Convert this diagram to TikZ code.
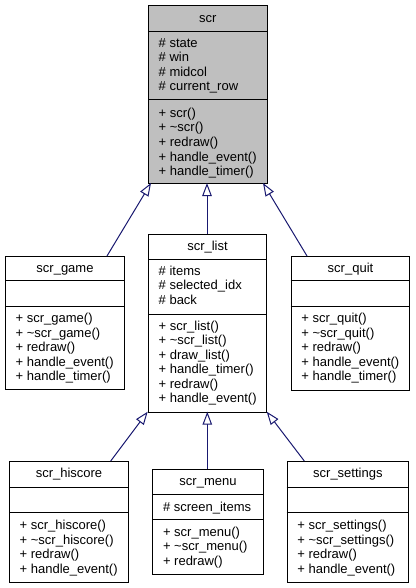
\documentclass[tikz,border=0pt]{standalone}
\usepackage{fontspec}
\setmainfont{Liberation Sans}
\usetikzlibrary{arrows.meta}
\definecolor{edgeblue}{HTML}{191970}
\definecolor{basegray}{HTML}{BFBFBF}

% one class member per line, 14.5pt apart, starting at baseline #3
\newcommand\memberlines[4]{%
  \foreach \t [count=\i] in {#4}
    \node[member] (#1-\i) at (#2, {#3+14.5*(\i-1)}) {\t};%
}

\begin{document}
\begin{tikzpicture}[x=1pt,y=-1pt,
  cls/.style={draw=black, line width=1pt, rectangle, inner sep=0pt,
              anchor=north west, fill=white},
  sep/.style={draw=black, line width=1pt},
  member/.style={anchor=base west, inner sep=0pt, font=\fontsize{13}{14.5}\selectfont},
  title/.style={anchor=base, inner sep=0pt, font=\fontsize{13}{14.5}\selectfont},
  inherit/.style={draw=edgeblue, line width=1pt,
                  -{Triangle[length=13pt,width=9.5pt,fill=white,line width=1pt]}},
]
\useasboundingbox (0,0) rectangle (415,588);

% ---- class boxes ----
\node[cls, fill=basegray, minimum width=118.5pt, minimum height=177.5pt] (scr) at (148,5.5) {};
\node[cls, minimum width=119pt,   minimum height=132.5pt] (game)     at (5,256) {};
\node[cls, minimum width=118pt,   minimum height=177.7pt] (list)     at (148,234) {};
\node[cls, minimum width=118.6pt, minimum height=133.5pt] (quit)     at (290.7,256) {};
\node[cls, minimum width=119pt,   minimum height=121.3pt] (hiscore)  at (9,461) {};
\node[cls, minimum width=110.4pt, minimum height=105.3pt] (menu)     at (152.3,469) {};
\node[cls, minimum width=121.3pt, minimum height=121.3pt] (settings) at (286.7,461) {};

% ---- compartment separators ----
\foreach \n/\a/\b in {scr/32/100, game/280.7/306.7, list/259/314, quit/280.7/306.7,
                      hiscore/487.3/512.3, menu/494/519.3, settings/487.3/512.3} {
  \draw[sep] (\n.west |- 0,\a) -- (\n.east |- 0,\a);
  \draw[sep] (\n.west |- 0,\b) -- (\n.east |- 0,\b);
}

% ---- class names ----
\node[title] (scr-t)      at (scr.north      |- 0,22.5)  {scr};
\node[title] (game-t)     at (game.north     |- 0,272.5) {scr\_game};
\node[title] (list-t)     at (list.north     |- 0,250.2) {scr\_list};
\node[title] (quit-t)     at (quit.north     |- 0,272.5) {scr\_quit};
\node[title] (hiscore-t)  at (hiscore.north  |- 0,477.5) {scr\_hiscore};
\node[title] (menu-t)     at (menu.north     |- 0,485.2) {scr\_menu};
\node[title] (settings-t) at (settings.north |- 0,477.5) {scr\_settings};

% ---- attributes ----
\memberlines{scr-a}{158.5}{47.5}{\# state, \# win, \# midcol, \# current\_row}
\memberlines{list-a}{158.5}{275.2}{\# items, \# selected\_idx, \# back}
\memberlines{menu-a}{162.8}{511.2}{\# screen\_items}

% ---- operations ----
\memberlines{scr-m}{158.5}{117.5}{+ scr(), + \textasciitilde scr(), + redraw(),
  + handle\_event(), + handle\_timer()}
\memberlines{game-m}{15.5}{322.5}{+ scr\_game(), + \textasciitilde scr\_game(), + redraw(),
  + handle\_event(), + handle\_timer()}
\memberlines{list-m}{158.5}{330.2}{+ scr\_list(), + \textasciitilde scr\_list(), + draw\_list(),
  + handle\_timer(), + redraw(), + handle\_event()}
\memberlines{quit-m}{301.2}{322.5}{+ scr\_quit(), + \textasciitilde scr\_quit(), + redraw(),
  + handle\_event(), + handle\_timer()}
\memberlines{hiscore-m}{19.5}{529.5}{+ scr\_hiscore(), + \textasciitilde scr\_hiscore(),
  + redraw(), + handle\_event()}
\memberlines{menu-m}{162.8}{536.2}{+ scr\_menu(), + \textasciitilde scr\_menu(), + redraw()}
\memberlines{settings-m}{297.2}{529.5}{+ scr\_settings(), + \textasciitilde scr\_settings(),
  + redraw(), + handle\_event()}

% ---- inheritance connectors ----
\coordinate (game-up)     at (107,256);   \coordinate (scr-in1)  at (151,183);
\coordinate (list-up)     at (207,234);   \coordinate (scr-in2)  at (207,183);
\coordinate (quit-up)     at (307,256);   \coordinate (scr-in3)  at (263,183);
\coordinate (hiscore-up)  at (110.7,461); \coordinate (list-in1) at (147.7,411.7);
\coordinate (menu-up)     at (207.3,469); \coordinate (list-in2) at (207.3,411.7);
\coordinate (settings-up) at (304.3,461); \coordinate (list-in3) at (266.7,411.7);

\draw[inherit] (game-up) -- (scr-in1);
\draw[inherit] (list-up) -- (scr-in2);
\draw[inherit] (quit-up) -- (scr-in3);
\draw[inherit] (hiscore-up) -- (list-in1);
\draw[inherit] (menu-up) -- (list-in2);
\draw[inherit] (settings-up) -- (list-in3);
\end{tikzpicture}
\end{document}
